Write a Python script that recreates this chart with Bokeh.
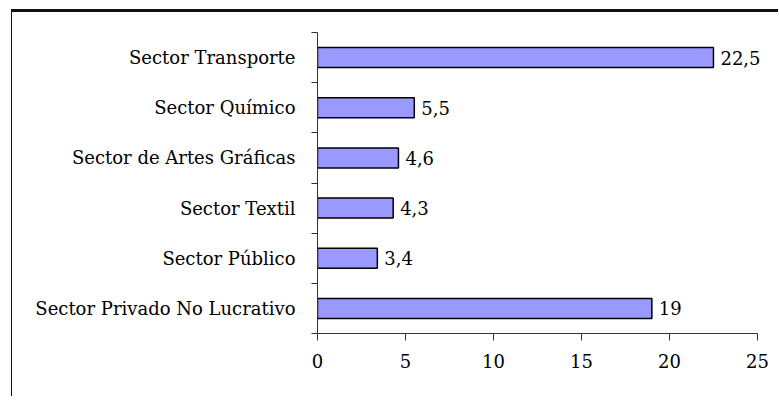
from bokeh.plotting import figure
from bokeh.models import FixedTicker, ColumnDataSource, Range1d, LabelSet
from bokeh.core.properties import value
from bokeh.embed import file_html
from bokeh.resources import INLINE

# Data (bottom to top)
categories = [
    "Sector Privado No Lucrativo",
    "Sector Público",
    "Sector Textil",
    "Sector de Artes Gráficas",
    "Sector Químico",
    "Sector Transporte",
]
values = [19, 3.4, 4.3, 4.6, 5.5, 22.5]
x_ticks = [0, 5, 10, 15, 20, 25]

FONT = "DejaVu Serif"
n = len(categories)
ypos = [i + 0.5 for i in range(n)]
labels = [f"{v:g}".replace(".", ",") for v in values]

src = ColumnDataSource(dict(y=ypos, v=values, lab=labels))

p = figure(
    width=766, height=387,
    x_range=Range1d(0, 25.4), y_range=Range1d(0, n),
    output_backend="svg", toolbar_location=None,
    min_border_left=305, min_border_right=14,
    min_border_top=20, min_border_bottom=66,
)
p.margin = (9, 0, 0, 12)
p.styles = {"box-shadow": "-1px 0px 0px 0px #111111", "border-top": "3px solid #111111"}

p.hbar(y="y", left=0, right="v", height=0.4, source=src,
       fill_color="#9999FF", line_color="#000000", line_width=1.5)
p.add_layout(LabelSet(x="v", y="y", text="lab", source=src, x_offset=7,
                      text_baseline="middle", text_align="left",
                      text_font=value(FONT), text_font_size=value("18px"),
                      text_color="#000000"))

p.xgrid.grid_line_color = None
p.ygrid.grid_line_color = None
p.outline_line_color = None

xa = p.xaxis[0]
xa.bounds = (0, 25)
xa.ticker = FixedTicker(ticks=x_ticks)
xa.major_tick_in = 0
xa.major_tick_out = 7
xa.minor_tick_line_color = None
xa.axis_line_color = "#333333"
xa.major_tick_line_color = "#333333"
xa.major_label_text_font = FONT
xa.major_label_text_font_size = "18px"
xa.major_label_text_color = "#000000"
xa.major_label_standoff = 13

ya = p.yaxis[0]
ya.ticker = FixedTicker(ticks=ypos, minor_ticks=list(range(n + 1)))
ya.major_label_overrides = {y: c for y, c in zip(ypos, categories)}
ya.major_tick_in = 0
ya.major_tick_out = 0
ya.major_tick_line_color = None
ya.minor_tick_in = 0
ya.minor_tick_out = 6
ya.minor_tick_line_color = "#333333"
ya.axis_line_color = "#333333"
ya.major_label_text_font = FONT
ya.major_label_text_font_size = "18px"
ya.major_label_text_color = "#000000"
ya.major_label_standoff = 16

open("out.html", "w").write(file_html(p, INLINE))
